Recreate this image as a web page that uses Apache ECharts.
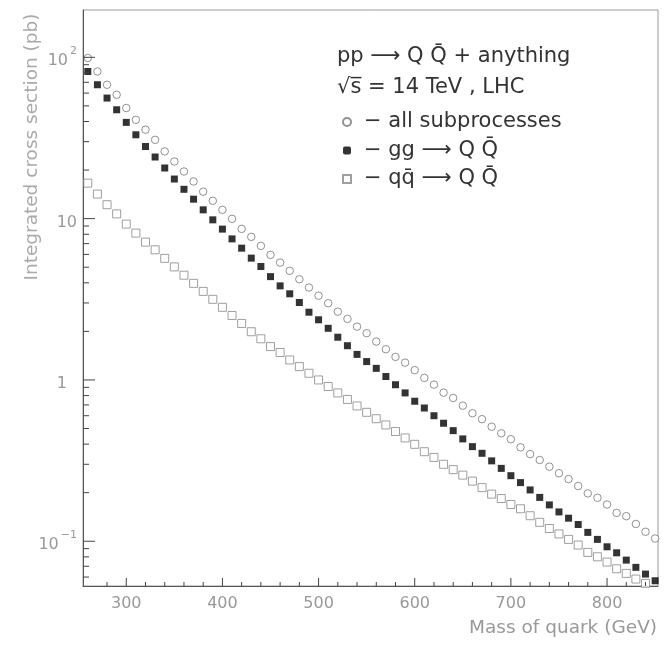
<!DOCTYPE html>
<html><head><meta charset="utf-8">
<script src="https://cdn.jsdelivr.net/npm/echarts@6/dist/echarts.min.js"></script>
<style>html,body{margin:0;padding:0;background:#fff}#c{width:665px;height:650px}</style>
</head><body><div id="c"></div>
<script>
// Quark mass (GeV)
const masses = [260,270,280,290,300,310,320,330,340,350,360,370,380,390,400,410,420,430,440,450,
  460,470,480,490,500,510,520,530,540,550,560,570,580,590,600,610,620,630,640,650,
  660,670,680,690,700,710,720,730,740,750,760,770,780,790,800,810,820,830,840,850];
// Integrated cross sections (pb)
const allSub = [99.0,81.7,67.6,58.6,48.5,41.0,35.6,30.8,26.1,22.6,
  19.6,17.0,14.7,12.9,11.34,9.97,8.64,7.71,6.78,5.96,
  5.34,4.75,4.21,3.74,3.33,2.99,2.65,2.39,2.14,1.95,
  1.73,1.55,1.39,1.28,1.15,1.03,0.935,0.834,0.773,0.693,
  0.622,0.571,0.513,0.467,0.429,0.382,0.347,0.319,0.290,0.264,
  0.243,0.220,0.198,0.186,0.169,0.150,0.143,0.128,0.1145,0.104];
const ggQQ = [81.7,67.6,55.9,47.3,39.5,33.1,28.0,24.1,20.6,17.6,
  15.2,13.2,11.34,9.83,8.61,7.49,6.56,5.69,5.05,4.37,
  3.83,3.42,3.02,2.63,2.36,2.09,1.84,1.63,1.44,1.30,
  1.18,1.05,0.934,0.831,0.738,0.670,0.600,0.539,0.485,0.431,
  0.386,0.351,0.315,0.283,0.255,0.231,0.208,0.187,0.168,0.152,
  0.139,0.127,0.1135,0.1027,0.0924,0.0848,0.0764,0.0689,0.0626,0.0569];
const qqQQ = [16.6,14.2,12.2,10.7,9.25,8.13,7.15,6.41,5.67,5.02,
  4.46,3.97,3.54,3.16,2.82,2.51,2.24,1.99,1.80,1.61,
  1.48,1.33,1.21,1.10,1.00,0.911,0.831,0.757,0.690,0.630,
  0.575,0.526,0.479,0.437,0.399,0.359,0.331,0.300,0.278,0.257,
  0.236,0.215,0.196,0.184,0.169,0.159,0.144,0.131,0.120,0.111,
  0.1027,0.0947,0.0853,0.0801,0.0743,0.0675,0.0632,0.0583,0.0548];
const seriesNames = ['all subprocesses', 'gg \u27F6 Q Q\u0304', 'qq\u0304 \u27F6 Q Q\u0304'];
const xMajorTicks = [300,400,500,600,700,800];
const xMinorTicks = [280,320,340,360,380,420,440,460,480,520,540,560,580,620,640,660,680,720,740,760,780,820,840];
const yMajorTicks = [0.1,1,10,100];
const yMinorTicks = [0.06,0.07,0.08,0.09,0.2,0.3,0.4,0.5,0.6,0.7,0.8,0.9,2,3,4,5,6,7,8,9,20,30,40,50,60,70,80,90];
const titleLines = ['pp \u27F6 Q Q\u0304 + anything', '\u221As\u0305 = 14 TeV , LHC'];
const xTitle = 'Mass of quark (GeV)';
const yTitle = 'Integrated cross section (pb)';

const X_MIN = 255, X_MAX = 853, Y_MIN = 0.0528, Y_MAX = 196.5;
const FONT = 'DejaVu Sans';
const TICK = '#444';
const chart = echarts.init(document.getElementById('c'));
const pairs = arr => arr.map((v, i) => [masses[i], v]);

// tick marks drawn through the chart's own scales
function tickSeries(values, axis, len) {
  return {
    type: 'custom', coordinateSystem: 'cartesian2d', silent: true, z: 5, clip: false,
    data: values.map(v => axis === 'y' ? [X_MIN, v] : [v, Y_MIN]),
    renderItem: (params, api) => {
      const p = api.coord([api.value(0), api.value(1)]);
      const shape = axis === 'y'
        ? { x1: p[0], y1: p[1], x2: p[0] + len, y2: p[1] }
        : { x1: p[0], y1: p[1], x2: p[0], y2: p[1] - len };
      return { type: 'line', shape: shape, style: { stroke: TICK, lineWidth: 1 } };
    }
  };
}

chart.setOption({
  animation: false,
  backgroundColor: '#fff',
  grid: { left: 83, top: 10, width: 575, height: 576, show: true, borderColor: '#9a9a9a', borderWidth: 1 },
  xAxis: { type: 'value', min: X_MIN, max: X_MAX, position: 'bottom',
    axisLine: { lineStyle: { color: '#555' } },
    axisTick: { show: false },
    axisLabel: { customValues: xMajorTicks, margin: 10, fontSize: 16, color: '#999', fontFamily: FONT },
    splitLine: { show: false } },
  yAxis: { type: 'log', logBase: 10, min: Y_MIN, max: Y_MAX,
    axisLine: { show: true, lineStyle: { color: '#555' } },
    axisTick: { show: false },
    splitLine: { show: false }, minorTick: { show: false },
    axisLabel: { showMinLabel: false, showMaxLabel: false, margin: 6,
      formatter: v => {
        const e = Math.round(Math.log10(v));
        if (e === 0) return '{b|1}{p1|}';
        if (e === 1) return '{b|10}';
        return '{b|10}{s|' + (e < 0 ? '\u2212' : '') + Math.abs(e) + '}';
      },
      rich: {
        b: { fontSize: 16, color: '#999', fontFamily: FONT, lineHeight: 24, verticalAlign: 'bottom' },
        s: { fontSize: 11, color: '#999', fontFamily: FONT, lineHeight: 24, verticalAlign: 'top', padding: [0, 0, 0, 2] },
        p1: { width: 10 }
      } } },
  legend: {
    orient: 'vertical', left: 337, top: 105, itemWidth: 8, itemHeight: 8, itemGap: 4.5,
    textStyle: { fontFamily: FONT, fontSize: 21, color: '#333', lineHeight: 24, padding: [0, 0, 0, 8] },
    formatter: n => '\u2212 ' + n,
    data: [ { name: seriesNames[0], icon: 'circle' }, { name: seriesNames[1], icon: 'roundRect' }, { name: seriesNames[2], icon: 'rect' } ]
  },
  graphic: [
    { type: 'text', x: 337, y: 57, style: { text: titleLines[0], font: '21px "DejaVu Sans"', fill: '#333', verticalAlign: 'middle' } },
    { type: 'text', x: 337, y: 88, style: { text: titleLines[1], font: '21px "DejaVu Sans"', fill: '#333', verticalAlign: 'middle' } },
    { type: 'text', x: 657, y: 628, style: { text: xTitle, font: '18.5px "DejaVu Sans"', fill: '#999', align: 'right', verticalAlign: 'middle' } },
    { type: 'text', x: 32, y: 147, rotation: Math.PI / 2, style: { text: yTitle, font: '18.5px "DejaVu Sans"', fill: '#aaa', align: 'center', verticalAlign: 'middle' } }
  ],
  series: [
    tickSeries(yMajorTicks, 'y', 12),
    tickSeries(yMinorTicks, 'y', 6),
    tickSeries(xMajorTicks, 'x', 8),
    tickSeries(xMinorTicks, 'x', 4),
    { name: seriesNames[2], type: 'scatter', data: pairs(qqQQ), symbol: 'rect', symbolSize: 8,
      itemStyle: { color: '#fff', borderColor: '#888', borderWidth: 1 } },
    { name: seriesNames[1], type: 'scatter', data: pairs(ggQQ), symbol: 'rect', symbolSize: 7,
      itemStyle: { color: '#000' } },
    { name: seriesNames[0], type: 'scatter', data: pairs(allSub), symbol: 'circle', symbolSize: 7.5,
      itemStyle: { color: '#fff', borderColor: '#777', borderWidth: 1 } }
  ]
});
</script></body></html>
